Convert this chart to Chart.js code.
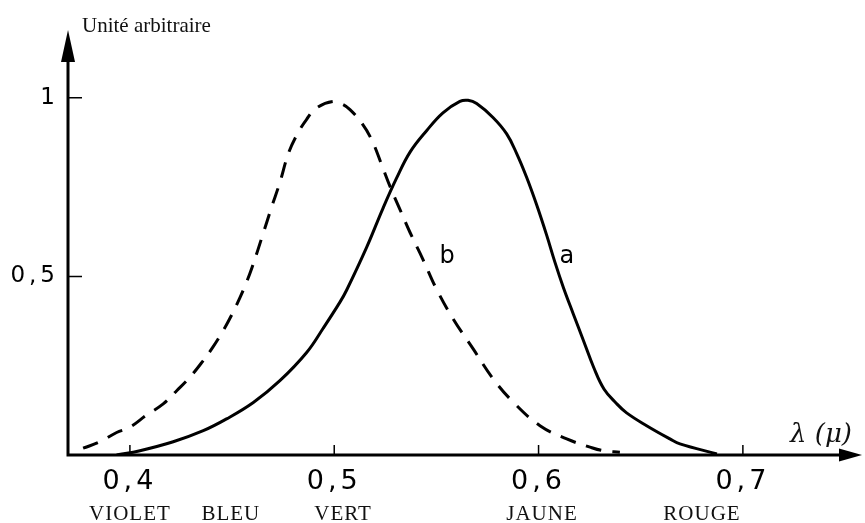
<!DOCTYPE html>
<html>
<head>
<meta charset="utf-8">
<script src="https://cdn.jsdelivr.net/npm/chart.js@4.4.1/dist/chart.umd.min.js"></script>
<style>
  html, body { margin: 0; padding: 0; background: #fff; }
  #wrap { width: 865px; height: 523px; }
</style>
</head>
<body>
<div id="wrap"><canvas id="chart"></canvas></div>
<script>
// curve a (solid) : wavelength in micron, relative value
const lambdaA = [0.3935, 0.4049, 0.4212, 0.4359, 0.4473, 0.4604, 0.4734, 0.4865, 0.4946, 0.5028,
  0.5061, 0.5159, 0.5238, 0.5305, 0.5371, 0.5452, 0.5532, 0.5615, 0.5655, 0.5697, 0.5777, 0.5844,
  0.5893, 0.5942, 0.5991, 0.6040, 0.6080, 0.6121, 0.6170, 0.6220, 0.6270, 0.6320, 0.6380,
  0.6431, 0.6529, 0.6643, 0.6692, 0.6873];
const valueA = [0, 0.012, 0.037, 0.068, 0.101, 0.147, 0.208, 0.287, 0.355, 0.428,
  0.462, 0.582, 0.690, 0.775, 0.848, 0.908, 0.958, 0.990, 0.993, 0.984, 0.945, 0.899,
  0.844, 0.777, 0.700, 0.615, 0.540, 0.470, 0.395, 0.320, 0.245, 0.185, 0.145,
  0.118, 0.082, 0.045, 0.031, 0.003];

// curve b (dashed)
const lambdaB = [0.3771, 0.3853, 0.3935, 0.4000, 0.4082, 0.4163, 0.4229, 0.4294, 0.4357, 0.4406,
  0.4455, 0.4498, 0.4538, 0.4563, 0.4596, 0.4652, 0.4694, 0.4734, 0.4775, 0.4816, 0.4865, 0.4914,
  0.4994, 0.5040, 0.5077, 0.5134, 0.5183, 0.5232, 0.5273, 0.5322, 0.5371, 0.5434, 0.5501, 0.5582,
  0.5680, 0.5778, 0.5876, 0.6007, 0.6138, 0.6252, 0.6317, 0.6398];
const valueB = [0.019, 0.037, 0.063, 0.078, 0.112, 0.143, 0.180, 0.218, 0.263, 0.302,
  0.347, 0.392, 0.440, 0.473, 0.522, 0.620, 0.695, 0.763, 0.843, 0.895, 0.940, 0.972,
  0.990, 0.982, 0.967, 0.930, 0.883, 0.813, 0.752, 0.687, 0.623, 0.548, 0.464, 0.381,
  0.297, 0.213, 0.148, 0.082, 0.045, 0.022, 0.012, 0.008];

const xTickValues = [0.4, 0.5, 0.6, 0.7];
const xTickLabels = ['0,4', '0,5', '0,6', '0,7'];
const yTickValues = [0.5, 1];
const yTickLabels = ['0,5', '1'];

const colorNames = ['VIOLET', 'BLEU', 'VERT', 'JAUNE', 'ROUGE'];
const colorLambda = [0.4, 0.4494, 0.5043, 0.6017, 0.68];

const curveNames = ['a', 'b'];
const curveNameLambda = [0.6139, 0.5552];
const curveNameValue = [0.555, 0.555];

const yTitle = 'Unité arbitraire';
const xTitle = 'λ (μ)';

const toPoints = (xs, ys) => xs.map((x, i) => ({ x: x, y: ys[i] }));

const decor = {
  id: 'decor',
  beforeDraw(chart) {
    chart.ctx.letterSpacing = '4px';
  },
  afterDraw(chart) {
    const ctx = chart.ctx;
    const a = chart.chartArea;
    const xs = chart.scales.x, ys = chart.scales.y;
    ctx.save();
    ctx.letterSpacing = '0px';
    ctx.strokeStyle = '#000';
    ctx.fillStyle = '#000';

    // axes
    ctx.lineWidth = 3;
    ctx.beginPath();
    ctx.moveTo(a.left, a.bottom + 1.5);
    ctx.lineTo(a.left, a.top + 20);
    ctx.moveTo(a.left - 1.5, a.bottom);
    ctx.lineTo(a.right - 15, a.bottom);
    ctx.stroke();
    // arrow heads
    ctx.beginPath();
    ctx.moveTo(a.left, a.top);
    ctx.lineTo(a.left - 7, a.top + 32);
    ctx.lineTo(a.left + 7, a.top + 32);
    ctx.closePath();
    ctx.fill();
    ctx.beginPath();
    ctx.moveTo(a.right, a.bottom);
    ctx.lineTo(a.right - 23, a.bottom - 6.5);
    ctx.lineTo(a.right - 23, a.bottom + 6.5);
    ctx.closePath();
    ctx.fill();

    // tick marks, drawn inside
    ctx.lineWidth = 1.5;
    ctx.beginPath();
    yTickValues.forEach(v => {
      const py = ys.getPixelForValue(v);
      ctx.moveTo(a.left, py);
      ctx.lineTo(a.left + 14, py);
    });
    xTickValues.forEach(v => {
      const px = xs.getPixelForValue(v);
      ctx.moveTo(px, a.bottom);
      ctx.lineTo(px, a.bottom - 10);
    });
    ctx.stroke();

    // axis titles
    ctx.fillStyle = '#111';
    ctx.textAlign = 'left';
    ctx.textBaseline = 'alphabetic';
    ctx.font = '21px "Liberation Serif"';
    ctx.fillText(yTitle, 82, 32);
    ctx.font = 'italic 26px "DejaVu Serif"';
    ctx.fillText(xTitle, 790, 442);

    // curve names
    ctx.fillStyle = '#000';
    ctx.textAlign = 'center';
    ctx.textBaseline = 'middle';
    ctx.font = '24px "DejaVu Sans"';
    curveNames.forEach((t, i) => {
      ctx.fillText(t, xs.getPixelForValue(curveNameLambda[i]), ys.getPixelForValue(curveNameValue[i]));
    });

    // spectral colour names under the axis
    ctx.fillStyle = '#111';
    ctx.textBaseline = 'alphabetic';
    ctx.font = '21px "Liberation Serif"';
    ctx.letterSpacing = '1px';
    colorNames.forEach((t, i) => {
      ctx.fillText(t, xs.getPixelForValue(colorLambda[i]), 520);
    });
    ctx.restore();
  }
};

new Chart(document.getElementById('chart'), {
  type: 'line',
  data: {
    datasets: [{
      label: 'a',
      data: toPoints(lambdaA, valueA),
      borderColor: '#000',
      borderWidth: 3,
      pointRadius: 0,
      tension: 0.4,
      fill: false
    }, {
      label: 'b',
      data: toPoints(lambdaB, valueB),
      borderColor: '#000',
      borderWidth: 3,
      borderDash: [16, 11],
      pointRadius: 0,
      tension: 0.4,
      fill: false
    }]
  },
  options: {
    responsive: true,
    maintainAspectRatio: false,
    animation: false,
    layout: { padding: { top: 30, right: 3, left: 0, bottom: 0 } },
    plugins: { legend: { display: false }, tooltip: { enabled: false } },
    scales: {
      x: {
        type: 'linear',
        min: 0.3697,
        max: 0.7583,
        grid: { display: false, drawTicks: false },
        border: { display: false },
        afterBuildTicks: s => { s.ticks = xTickValues.map(v => ({ value: v })); },
        afterFit: s => { s.height = 68; },
        ticks: {
          autoSkip: false,
          maxRotation: 0,
          padding: 11,
          color: '#000',
          font: { family: 'DejaVu Sans', size: 27 },
          callback: (v, i) => xTickLabels[i]
        }
      },
      y: {
        min: 0,
        max: 1.19,
        grid: { display: false, drawTicks: false },
        border: { display: false },
        afterBuildTicks: s => { s.ticks = yTickValues.map(v => ({ value: v })); },
        afterFit: s => { s.width = 68; },
        ticks: {
          padding: 9,
          color: '#000',
          font: { family: 'DejaVu Sans', size: 23 },
          callback: (v, i) => yTickLabels[i]
        }
      }
    }
  },
  plugins: [decor]
});
</script>
</body>
</html>
